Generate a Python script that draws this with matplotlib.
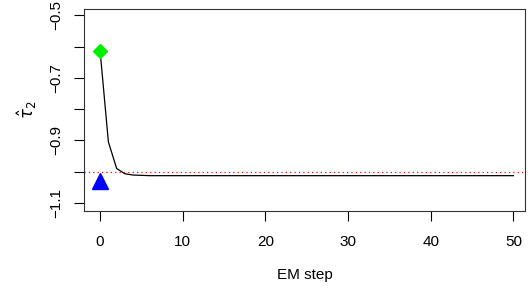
import numpy as np
import matplotlib
matplotlib.use("Agg")
import matplotlib.pyplot as plt

plt.rcParams['font.family'] = ['Liberation Sans', 'DejaVu Sans']

# EM iterations and tau_2 estimates
steps = list(range(51))
tau2 = [-0.615, -0.905, -0.990, -1.007, -1.011, -1.012, -1.013, -1.013, -1.013, -1.013,
        -1.013, -1.013, -1.013, -1.013, -1.013, -1.013, -1.013, -1.013, -1.013, -1.013,
        -1.013, -1.013, -1.013, -1.013, -1.013, -1.013, -1.013, -1.013, -1.013, -1.013,
        -1.013, -1.013, -1.013, -1.013, -1.013, -1.013, -1.013, -1.013, -1.013, -1.013,
        -1.013, -1.013, -1.013, -1.013, -1.013, -1.013, -1.013, -1.013, -1.013, -1.013,
        -1.013]
start_val = -0.615
true_val = -1.0
naive_val = -1.03

fig = plt.figure(figsize=(5.3, 2.93), dpi=100)
ax = fig.add_axes([84/530, 82/293, (525-84)/530, (284-82)/293])

ax.plot(steps, tau2, color="black", lw=0.9)
ax.axhline(true_val, color="red", ls=(0, (1, 2.5)), lw=0.9)
ax.plot([0], [start_val], marker="D", color="#00ee00", ms=7, ls="none")
ax.plot([0], [naive_val], marker="^", color="#0000ff", ms=11, ls="none")

ax.set_xlim(-1.95, 51.4)
ax.set_ylim(-1.126, -0.48)
ax.set_xticks([0, 10, 20, 30, 40, 50])
ax.set_yticks([-1.1, -1.0, -0.9, -0.8, -0.7, -0.6, -0.5])
ax.set_yticklabels(["\u22121.1", "", "\u22120.9", "", "\u22120.7", "", "\u22120.5"],
                   rotation=90, va="center")
ax.tick_params(direction="out", length=7, width=0.8, labelsize=11)
ax.tick_params(axis="x", pad=10)
ax.tick_params(axis="y", pad=8)
for s in ax.spines.values():
    s.set_linewidth(0.8)
    s.set_color("#333333")

ax.set_xlabel("EM step", fontsize=11, labelpad=14)
ax.set_ylabel(r"$\hat{\tau}_2$", fontsize=12, labelpad=7)

fig.savefig("out.png", dpi=100)
